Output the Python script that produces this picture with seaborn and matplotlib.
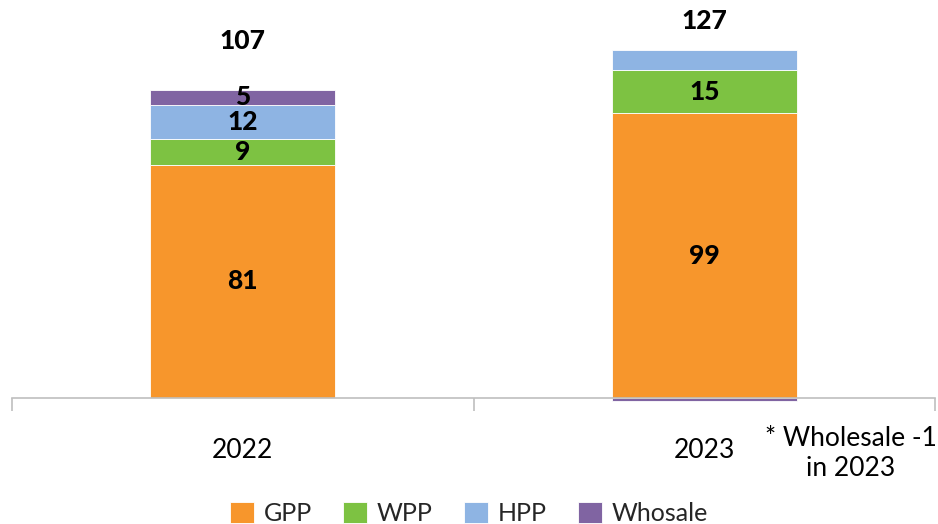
import matplotlib
matplotlib.use("Agg")
import matplotlib.pyplot as plt
import seaborn as sns
import numpy as np

years = ["2022", "2023"]
series_names = ["GPP", "WPP", "HPP", "Whosale"]
gpp = [81, 99]
wpp = [9, 15]
hpp = [12, 7]
whosale = [5, -1]
# labels shown inside segments (None = not labelled)
seg_labels = {
    "GPP": ["81", "99"],
    "WPP": ["9", "15"],
    "HPP": ["12", None],
    "Whosale": ["5", None],
}
total_labels = ["107", "127"]
footnote = "* Wholesale -1\nin 2023"

COLORS = {"GPP": "#F7962C", "WPP": "#7DC242", "HPP": "#8EB4E3", "Whosale": "#8064A2"}

sns.set_style("white")
plt.rcParams["font.family"] = ["Lato", "DejaVu Sans"]

fig = plt.figure(figsize=(9.38, 5.24), dpi=100)
ax = fig.add_axes([12 / 938, 0.2323, 923 / 938, 0.7494])

pos_base = np.zeros(len(years))
neg_base = np.zeros(len(years))
values = {"GPP": gpp, "WPP": wpp, "HPP": hpp, "Whosale": whosale}
for name in series_names:
    vals = np.array(values[name], dtype=float)
    bottoms = np.where(vals >= 0, pos_base, neg_base)
    sns.barplot(x=years, y=vals, bottom=bottoms, color=COLORS[name], saturation=1,
                width=0.4, edgecolor="white", linewidth=0.6, ax=ax, label=name)
    for i, lab in enumerate(seg_labels[name]):
        if lab is not None:
            ax.text(i, bottoms[i] + vals[i] / 2, lab, ha="center", va="center",
                    fontsize=19, fontweight="black", color="black")
    pos_base = pos_base + np.where(vals >= 0, vals, 0)
    neg_base = neg_base + np.where(vals < 0, vals, 0)

# totals above the stacks, kept inside the plot area
for i, lab in enumerate(total_labels):
    ax.text(i, min(pos_base[i] + 17, 131), lab, ha="center", va="center",
            fontsize=19, fontweight="black", color="black")

ax.set_xlim(-0.5, 1.5)
ax.set_ylim(-1.5, 135)
for s in ["top", "right", "left"]:
    ax.spines[s].set_visible(False)
ax.spines["bottom"].set_position(("data", 0))
ax.spines["bottom"].set_color("#BFBFBF")
ax.spines["bottom"].set_linewidth(1.2)
ax.set_yticks([])
ax.set_xticks([-0.5, 0.5, 1.5])
ax.set_xticklabels([])
ax.tick_params(axis="x", bottom=True, direction="out", length=9, width=1.2,
               color="#BFBFBF")
for i, y in enumerate(years):
    ax.text(i, -14, y, ha="center", va="top", fontsize=19, color="black")
ax.set_xlabel("")
ax.set_ylabel("")

fig.text(0.907, 0.135, footnote, ha="center", va="center", fontsize=19,
         linespacing=1.25, color="black")

handles, labels = ax.get_legend_handles_labels()
ax.legend(handles, labels, loc="lower center", bbox_to_anchor=(0.5, -0.045),
          bbox_transform=fig.transFigure, ncol=4, frameon=False, fontsize=18,
          handlelength=0.95, handleheight=0.95, handletextpad=0.4, columnspacing=1.25)

fig.savefig("out.png", dpi=100)
